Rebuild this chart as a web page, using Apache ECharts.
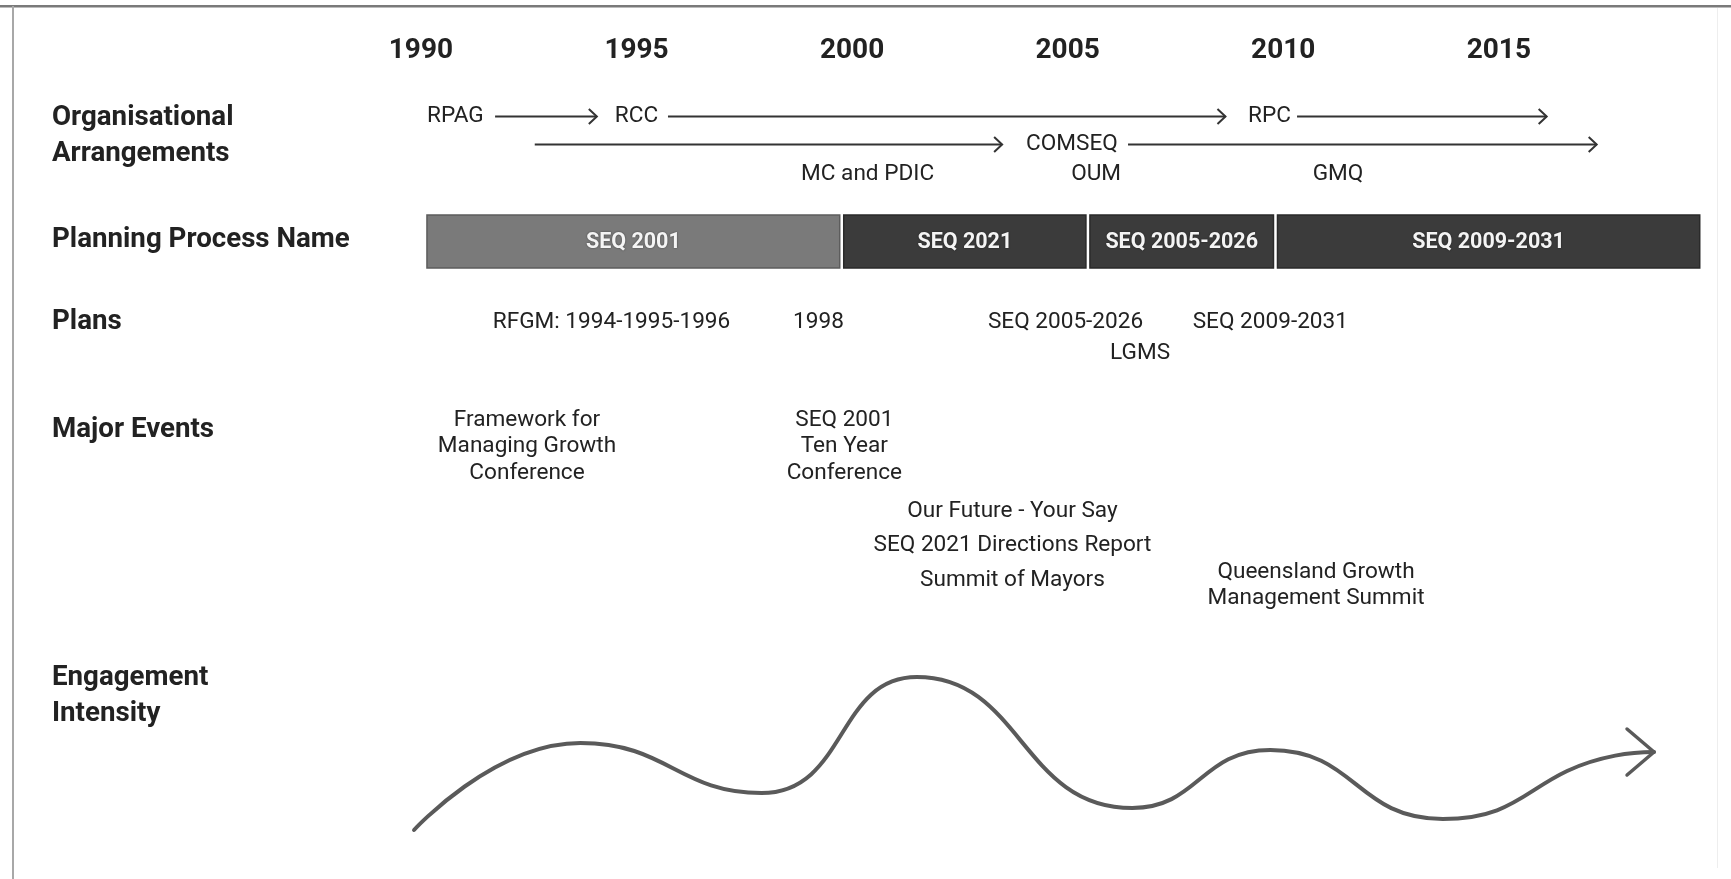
<!DOCTYPE html>
<html><head><meta charset="utf-8">
<script src="https://cdn.jsdelivr.net/npm/echarts@6/dist/echarts.min.js"></script>
<style>html,body{margin:0;padding:0;background:#fff}#c{width:1731px;height:879px}</style>
</head><body><div id="c"></div>
<script>
// ---------- DATA ----------
const yearTicks = [1990, 1995, 2000, 2005, 2010, 2015];

const rowHeadings = ['Organisational\nArrangements', 'Planning Process Name', 'Plans', 'Major Events', 'Engagement\nIntensity'];

const orgLabelNames = ['RPAG', 'RCC', 'RPC', 'COMSEQ', 'MC and PDIC', 'OUM', 'GMQ'];
const orgLabelYears = [1990.8, 1995.0, 2009.68, 2005.1, 2000.36, 2005.66, 2011.27];
const orgLabelRows  = ['org1', 'org1', 'org1', 'org2', 'org3', 'org3', 'org3'];

const arrowStarts = [1991.72, 1995.73, 2010.32, 1992.64, 2006.4];
const arrowEnds   = [1994.08, 2008.66, 2016.11, 2003.48, 2017.27];
const arrowRows   = ['org1', 'org1', 'org1', 'org2', 'org2'];

const processNames  = ['SEQ 2001', 'SEQ 2021', 'SEQ 2005-2026', 'SEQ 2009-2031'];
const processStarts = [1990.14, 1999.76, 2005.47, 2009.82];
const processEnds   = [1999.76, 2005.47, 2009.82, 2019.66];

const planNames = ['RFGM: 1994-1995-1996', '1998', 'SEQ 2005-2026', 'SEQ 2009-2031', 'LGMS'];
const planYears = [1994.42, 1999.22, 2004.95, 2009.7, 2006.68];
const planRows  = ['plans1', 'plans1', 'plans1', 'plans1', 'plans2'];

const eventNames = ['Framework for\nManaging Growth\nConference', 'SEQ 2001\nTen Year\nConference',
  'Our Future - Your Say', 'SEQ 2021 Directions Report', 'Summit of Mayors',
  'Queensland Growth\nManagement Summit'];
const eventYears = [1992.46, 1999.82, 2003.72, 2003.72, 2003.72, 2010.76];
const eventRows  = ['ev1', 'ev1', 'ev2', 'ev3', 'ev4', 'ev5'];

const engagementYears  = [1989.84, 1993.7, 1997.9, 2001.5, 2006.5, 2009.7, 2013.7, 2017.7, 2018.6];
const engagementValues = [1.0, 5.35, 2.85, 8.65, 2.1, 5.0, 1.55, 4.72, 4.9];

// ---------- LAYOUT / STYLE ----------
const rowLevel = { org1: 116.5, org2: 144.5, org3: 174, proc: 241.5, plans1: 322.5, plans2: 353.5,
  ev1: 446.5, ev2: 511.5, ev3: 545.5, ev4: 580.5, ev5: 585.5 };
const headingLevel = [136.5, 240, 322.5, 430, 696.5];
const processColors = ['#7a7a7a', '#3b3b3b', '#3b3b3b', '#3b3b3b'];
const processBorder = ['#5c5c5c', '#2a2a2a', '#2a2a2a', '#2a2a2a'];
const BAR_H = 53, BAR_GAP = 2;
const TXT = '#222';
const FONT = 'Roboto, "Noto Sans", sans-serif';

const chart = echarts.init(document.getElementById('c'), null, { renderer: 'canvas' });

function textSeries(names, years, rows, lineH) {
  return {
    type: 'custom', xAxisIndex: 0, yAxisIndex: 0, silent: true,
    data: names.map((n, i) => [years[i], rowLevel[rows[i]], n]),
    renderItem: (params, api) => {
      const p = api.coord([api.value(0), api.value(1)]);
      const t = names[params.dataIndex];
      return { type: 'text', x: p[0], y: p[1], style: {
        text: t, fill: TXT, font: '22.6px ' + FONT, align: 'center', verticalAlign: 'middle',
        textAlign: 'center', textVerticalAlign: 'middle', lineHeight: lineH } };
    }
  };
}

const option = {
  animation: false,
  backgroundColor: '#fff',
  grid: [
    { left: 76, right: 16.6, top: 70, height: 550 },
    { left: 76, right: 16.6, top: 650, height: 200 }
  ],
  xAxis: [
    { type: 'value', gridIndex: 0, min: 1982, max: 2020, position: 'top',
      axisLine: { show: false }, axisTick: { show: false }, splitLine: { show: false },
      axisLabel: { customValues: yearTicks, margin: 5, color: '#222', fontFamily: 'Roboto',
        fontWeight: 'bold', fontSize: 28, formatter: v => String(v) } },
    { type: 'value', gridIndex: 1, min: 1982, max: 2020, show: false }
  ],
  yAxis: [
    { type: 'value', gridIndex: 0, min: 70, max: 620, inverse: true, show: false },
    { type: 'value', gridIndex: 1, min: 0, max: 10, show: false }
  ],
  graphic: [
    { type: 'rect', shape: { x: 0, y: 5, width: 1731, height: 2.5 }, style: { fill: '#7a7a7a' }, silent: true },
    { type: 'rect', shape: { x: 12, y: 6, width: 2, height: 873 }, style: { fill: '#a8a8a8' }, silent: true },
    { type: 'rect', shape: { x: 1717, y: 8, width: 1, height: 860 }, style: { fill: '#eeeeee' }, silent: true }
  ].concat(rowHeadings.map((h, i) => ({
    type: 'text', x: 52, y: headingLevel[i], silent: true,
    style: { text: h, fill: '#222', font: 'bold 27.7px ' + FONT, lineHeight: 36,
      align: 'left', verticalAlign: 'middle', textAlign: 'left', textVerticalAlign: 'middle' }
  }))),
  series: [
    {
      type: 'custom', xAxisIndex: 0, yAxisIndex: 0, silent: true,
      data: arrowStarts.map((s, i) => [s, arrowEnds[i], rowLevel[arrowRows[i]]]),
      renderItem: (params, api) => {
        const a = api.coord([api.value(0), api.value(2)]);
        const b = api.coord([api.value(1), api.value(2)]);
        const st = { stroke: '#333', lineWidth: 2, fill: null };
        return { type: 'group', children: [
          { type: 'line', shape: { x1: a[0], y1: a[1], x2: b[0], y2: b[1] }, style: st },
          { type: 'polyline', shape: { points: [[b[0] - 8, b[1] - 7.5], [b[0], b[1]], [b[0] - 8, b[1] + 7.5]] }, style: st }
        ] };
      }
    },
    textSeries(orgLabelNames, orgLabelYears, orgLabelRows, 26),
    {
      type: 'custom', xAxisIndex: 0, yAxisIndex: 0, silent: true,
      data: processStarts.map((s, i) => [s, processEnds[i], rowLevel.proc]),
      renderItem: (params, api) => {
        const i = params.dataIndex;
        const a = api.coord([api.value(0), api.value(2)]);
        const b = api.coord([api.value(1), api.value(2)]);
        const x0 = a[0] + (i === 0 ? 0 : BAR_GAP), x1 = b[0] - (i === processNames.length - 1 ? 0 : BAR_GAP);
        return { type: 'group', children: [
          { type: 'rect', shape: { x: x0, y: a[1] - BAR_H / 2, width: x1 - x0, height: BAR_H },
            style: { fill: processColors[i], stroke: processBorder[i], lineWidth: 1.5 } },
          { type: 'text', x: (x0 + x1) / 2, y: a[1] + 1.5, style: { text: processNames[i], fill: '#f4f4f4',
            font: 'bold 21.5px ' + FONT, align: 'center', verticalAlign: 'middle',
            textAlign: 'center', textVerticalAlign: 'middle',
            textShadowColor: 'rgba(0,0,0,0.5)', textShadowBlur: 2 } }
        ] };
      }
    },
    textSeries(planNames, planYears, planRows, 26),
    textSeries(eventNames, eventYears, eventRows, 26.5),
    {
      type: 'line', xAxisIndex: 1, yAxisIndex: 1, silent: true,
      data: engagementYears.map((y, i) => [y, engagementValues[i]]),
      smooth: 0.5, showSymbol: false, symbol: 'none',
      lineStyle: { color: '#5a5a5a', width: 4, cap: 'round' }
    },
    {
      type: 'custom', xAxisIndex: 1, yAxisIndex: 1, silent: true,
      data: [[engagementYears[engagementYears.length - 1], engagementValues[engagementValues.length - 1]]],
      renderItem: (params, api) => {
        const p = api.coord([api.value(0), api.value(1)]);
        return { type: 'polyline', shape: { points: [[p[0] - 27, p[1] - 23], [p[0], p[1]], [p[0] - 27, p[1] + 23]] },
          style: { stroke: '#5a5a5a', lineWidth: 3.5, fill: null, lineCap: 'round', lineJoin: 'round' } };
      }
    }
  ]
};
chart.setOption(option);
</script>
</body></html>
